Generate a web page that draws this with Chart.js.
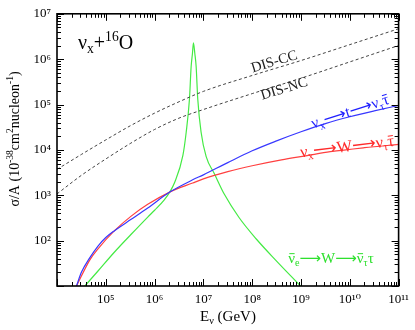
<!DOCTYPE html>
<html>
<head>
<meta charset="utf-8">
<script src="https://cdn.jsdelivr.net/npm/chart.js@4/dist/chart.umd.min.js"></script>
<style>
  body { margin: 0; background: #fff; }
</style>
</head>
<body>
<canvas id="c" width="415" height="330"></canvas>
<script>
// values (E in GeV, sigma/A in 1e-38 cm^2 per nucleon)
var disE = [1e4, 3.16e4, 1e5, 3.16e5, 1e6, 3.16e6, 1e7, 1e8, 1e9, 1e10, 1e11];
var ccS = [3720, 7940, 16600, 33900, 64600, 115000, 195000, 437000, 933000, 2.09e6, 4.68e6];
var ncS = [1070, 2750, 6310, 13800, 28200, 50100, 77600, 174000, 380000, 871000, 2.0e6];

var topE = [2.51e4, 3.16e4, 4.68e4, 6.92e4, 1e5, 1.51e5, 3.31e5, 7.24e5, 2.04e6, 6.03e6, 1e7, 3.16e7, 1e8, 3.16e8, 1e9, 3.16e9, 1e10, 3.16e10, 1e11];
var topS = [10, 20, 41.7, 75.9, 117, 166, 295, 525, 1175, 2190, 2820, 5250, 9550, 15800, 25100, 38000, 53700, 72400, 95500];

var wE = [2.51e4, 4.68e4, 6.92e4, 1.51e5, 3.31e5, 7.24e5, 2.04e6, 6.03e6, 1e7, 3.16e7, 1e8, 3.98e8, 1.26e9, 3.98e9, 2.0e10, 1e11];
var wS = [10, 37.2, 66.1, 166, 347, 631, 1175, 1860, 2290, 3310, 4470, 6030, 7410, 9120, 11200, 13200];

var glE = [3.72e4, 6.92e4, 1.51e5, 3.31e5, 7.24e5, 1e6, 1.58e6, 2.04e6, 2.57e6, 3.8e6, 4.44e6, 5.18e6, 5.61e6, 5.96e6, 6.25e6, 6.68e6, 7.1e6, 7.66e6, 8.97e6, 1.14e7, 1.67e7, 2.69e7, 5.37e7, 1.2e8, 3.02e8, 9.77e8];
var glS = [10, 21.4, 56.2, 138, 331, 468, 794, 1175, 1905, 7590, 24500, 132000, 692000, 1.32e6, 2.29e6, 1.32e6, 692000, 132000, 24500, 7080, 3020, 1050, 324, 110, 37.2, 10];

var xTicks = [1e5, 1e6, 1e7, 1e8, 1e9, 1e10, 1e11];
var yTicks = [1e2, 1e3, 1e4, 1e5, 1e6, 1e7];

var serif = '"Liberation Serif", "DejaVu Serif", serif';
var supDigits = {"0":"⁰","1":"¹","2":"²","3":"³","4":"⁴","5":"⁵","6":"⁶","7":"⁷","8":"⁸","9":"⁹"};

function powLabel(v) {
  var e = Math.round(Math.log10(v));
  return "10" + String(e).split("").map(function(c) { return supDigits[c]; }).join("");
}

function pts(xs, ys) {
  return xs.map(function(x, i) { return {x: x, y: ys[i]}; });
}

// text with sub/superscripts, centred on (x, y)
function rich(ctx, x, y, parts, size, color, angle, alignLeft) {
  ctx.save();
  ctx.translate(x, y);
  ctx.rotate((angle || 0) * Math.PI / 180);
  ctx.fillStyle = color;
  ctx.strokeStyle = color;
  ctx.textAlign = "left";
  ctx.textBaseline = "alphabetic";
  var total = 0;
  parts.forEach(function(p) {
    p.s = (p.sub || p.sup) ? size * 0.68 : size;
    ctx.font = p.s + "px " + (p.font || serif);
    p.w = ctx.measureText(p.t).width;
    total += p.w;
  });
  var cx = alignLeft ? 0 : -total / 2;
  var base = size * 0.33;
  parts.forEach(function(p) {
    ctx.font = p.s + "px " + (p.font || serif);
    var dy = p.sub ? size * 0.22 : (p.sup ? -size * 0.38 : 0);
    ctx.fillText(p.t, cx, base + dy);
    if (p.bar) {
      ctx.lineWidth = 1;
      ctx.beginPath();
      var by = base + dy - p.s * 0.62;
      ctx.moveTo(cx + 1, by);
      ctx.lineTo(cx + p.w - 0.5, by);
      ctx.stroke();
    }
    cx += p.w;
  });
  ctx.restore();
}

var arrow = '"DejaVu Sans"';

var frame = {
  id: "frame",
  afterDraw: function(chart) {
    var ctx = chart.ctx;
    var a = chart.chartArea;
    var xs = chart.scales.x, ys = chart.scales.y;
    ctx.save();
    ctx.strokeStyle = "#000";
    ctx.lineWidth = 1;
    // inward ticks on all four sides
    for (var e = 4; e <= 11; e++) {
      for (var k = 1; k <= 9; k++) {
        var v = k * Math.pow(10, e);
        if (v > 1e11) break;
        var px = Math.round(xs.getPixelForValue(v)) + 0.5;
        var len = k === 1 ? 7 : 4;
        ctx.beginPath();
        ctx.moveTo(px, a.bottom); ctx.lineTo(px, a.bottom - len);
        ctx.moveTo(px, a.top); ctx.lineTo(px, a.top + len);
        ctx.stroke();
      }
    }
    for (var e2 = 1; e2 <= 7; e2++) {
      for (var k2 = 1; k2 <= 9; k2++) {
        var v2 = k2 * Math.pow(10, e2);
        if (v2 > 1e7) break;
        var py = Math.round(ys.getPixelForValue(v2)) + 0.5;
        var len2 = k2 === 1 ? 7 : 4;
        ctx.beginPath();
        ctx.moveTo(a.left, py); ctx.lineTo(a.left + len2, py);
        ctx.moveTo(a.right, py); ctx.lineTo(a.right - len2, py);
        ctx.stroke();
      }
    }
    ctx.lineWidth = 1.6;
    ctx.strokeRect(a.left, a.top, a.right - a.left, a.bottom - a.top);
    ctx.restore();

    var blue = "#2020ff", red = "#ff2a2a", green = "#2ee02e";
    rich(ctx, 78, 42, [{t: "ν"}, {t: "x", sub: true}, {t: "+"}, {t: "16", sup: true}, {t: "O"}], 20, "#000", 0, true);
    rich(ctx, 274, 61, [{t: "DIS-CC"}], 14.5, "#222", -17);
    rich(ctx, 284, 88, [{t: "DIS-NC"}], 14.5, "#222", -17);
    rich(ctx, 350, 111, [{t: "ν"}, {t: "x", sub: true}, {t: "⟶", font: arrow}, {t: "t"}, {t: "⟶", font: arrow}, {t: "ν"}, {t: "τ", sub: true}, {t: "τ", bar: true}], 16, blue, -18);
    rich(ctx, 347, 146, [{t: "ν"}, {t: "x", sub: true}, {t: "⟶", font: arrow}, {t: "W"}, {t: "⟶", font: arrow}, {t: "ν"}, {t: "τ", sub: true}, {t: "τ", bar: true}], 16.5, red, -7);
    rich(ctx, 331, 258, [{t: "ν", bar: true}, {t: "e", sub: true}, {t: "⟶", font: arrow}, {t: "W"}, {t: "⟶", font: arrow}, {t: "ν", bar: true}, {t: "τ", sub: true}, {t: "τ"}], 15, green, 0);

    // axis titles
    rich(ctx, 14, 139, [{t: "σ/A (10"}, {t: "-38", sup: true}, {t: "cm"}, {t: "2", sup: true}, {t: "nucleon"}, {t: "-1", sup: true}, {t: ")"}], 14, "#000", -90);
    rich(ctx, 228, 316, [{t: "E"}, {t: "ν", sub: true}, {t: " (GeV)"}], 15, "#000", 0);
  }
};

function series(data, color, dash) {
  return {
    data: data,
    showLine: true,
    borderColor: color,
    borderWidth: dash ? 1 : 1.2,
    borderDash: dash ? [3, 2.5] : [],
    pointRadius: 0,
    fill: false,
    cubicInterpolationMode: "monotone"
  };
}

new Chart(document.getElementById("c").getContext("2d"), {
  type: "scatter",
  data: {
    datasets: [
      series(pts(disE, ccS), "#444", true),
      series(pts(disE, ncS), "#444", true),
      series(pts(topE, topS), "#3838ff", false),
      series(pts(wE, wS), "#ff4040", false),
      series(pts(glE, glS), "#44ea44", false)
    ]
  },
  options: {
    responsive: false,
    animation: false,
    layout: { padding: { left: 0, right: 15, top: 10, bottom: 0 } },
    plugins: { legend: { display: false }, tooltip: { enabled: false } },
    scales: {
      x: {
        type: "logarithmic",
        min: 1e4,
        max: 1e11,
        grid: { display: false, drawTicks: false },
        border: { display: false },
        afterBuildTicks: function(s) { s.ticks = xTicks.map(function(v) { return {value: v}; }); },
        afterFit: function(s) { s.height = 44; },
        ticks: {
          autoSkip: false, maxRotation: 0, padding: 6, color: "#000",
          font: { family: serif, size: 13 },
          callback: function(v) { return powLabel(v); }
        }
      },
      y: {
        type: "logarithmic",
        min: 10,
        max: 1e7,
        grid: { display: false, drawTicks: false },
        border: { display: false },
        afterBuildTicks: function(s) { s.ticks = yTicks.map(function(v) { return {value: v}; }); },
        afterFit: function(s) { s.width = 57; },
        ticks: {
          autoSkip: false, padding: 6, color: "#000",
          font: { family: serif, size: 13 },
          callback: function(v) { return powLabel(v); }
        }
      }
    }
  },
  plugins: [frame]
});
</script>
</body>
</html>
